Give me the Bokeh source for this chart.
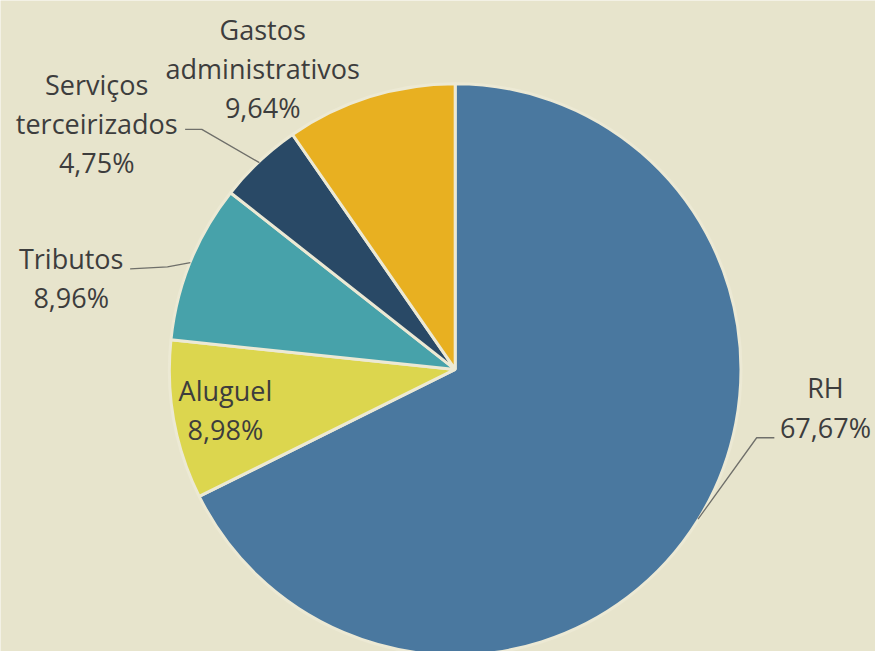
import math
from bokeh.plotting import figure
from bokeh.models import Range1d, ColumnDataSource
from bokeh.core.properties import value
from bokeh.embed import file_html
from bokeh.resources import INLINE

# ---- data ----
categories = ["RH", "Aluguel", "Tributos", "Serviços\nterceirizados", "Gastos\nadministrativos"]
percent = [67.67, 8.98, 8.96, 4.75, 9.64]
pct_labels = ["67,67%", "8,98%", "8,96%", "4,75%", "9,64%"]
colors = ["#4a789f", "#dcd64e", "#47a2aa", "#294966", "#e8b021"]

# ---- layout (reference pixel space 891x667, y measured from top) ----
W, H = 875, 651
RW, RH_ = 891, 667
CX, CY, R = 463, 378, 291
label_pos = [(840, 397), (229, 400), (72, 264), (98, 86), (267, 30)]
elbows = [[(788, 448), (770, 448)], None, [(132, 275), (170, 273)], [(188, 132), (205, 132)], None]
LINE_GAP = 40

def Y(py):
    return RH_ - py

p = figure(width=W, height=H, output_backend="svg", toolbar_location=None,
           x_range=Range1d(0, RW), y_range=Range1d(0, RH_),
           x_axis_type=None, y_axis_type=None, min_border=0)
p.grid.visible = False
p.outline_line_color = None
bg = "#e7e4cc"
p.background_fill_color = bg
p.border_fill_color = bg

total = sum(percent)
starts, ends, mids = [], [], []
cum = 0.0
for v in percent:
    a_end = math.pi / 2 - cum / total * 2 * math.pi
    cum += v
    a_start = math.pi / 2 - cum / total * 2 * math.pi
    starts.append(a_start)
    ends.append(a_end)
    mids.append((a_start + a_end) / 2)

src = ColumnDataSource(dict(start=starts, end=ends, color=colors))
p.wedge(x=CX, y=Y(CY), radius=R, start_angle="start", end_angle="end",
        fill_color="color", line_color="#ece9d4", line_width=3, source=src)

# leader lines
for i, el in enumerate(elbows):
    if el is None:
        continue
    ex = CX + R * math.cos(mids[i])
    ey = CY - R * math.sin(mids[i])
    xs = [el[0][0], el[1][0], ex]
    ys = [Y(el[0][1]), Y(el[1][1]), Y(ey)]
    p.line(xs, ys, line_color="#6f6f6a", line_width=1.3)

# labels
tx, ty, tt = [], [], []
for i, cat in enumerate(categories):
    lines = cat.split("\n") + [pct_labels[i]]
    x0, y0 = label_pos[i]
    for k, ln in enumerate(lines):
        tx.append(x0)
        ty.append(Y(y0 + k * LINE_GAP))
        tt.append(ln)
p.text(x=tx, y=ty, text=tt, text_font=value("Open Sans"), text_font_size="27px",
       text_color="#3d3d3d", text_align="center", text_baseline="middle")

html = file_html(p, INLINE)
html = html.replace("<body>", '<body style="background:%s">' % bg, 1)
open("out.html", "w").write(html)
